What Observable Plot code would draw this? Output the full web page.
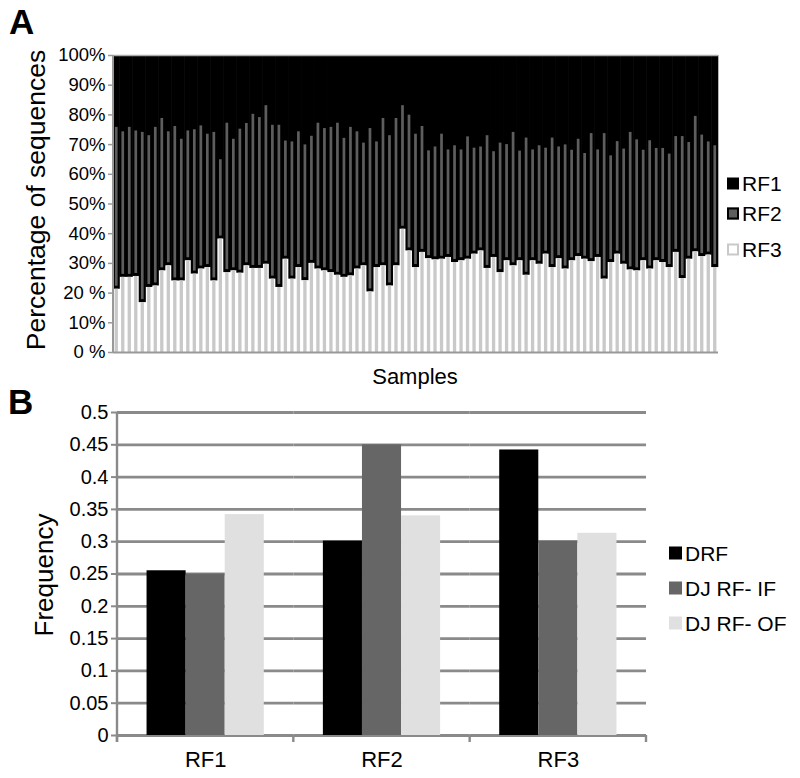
<!DOCTYPE html>
<html><head><meta charset="utf-8">
<script src="https://cdn.jsdelivr.net/npm/d3@7"></script>
<script src="https://cdn.jsdelivr.net/npm/@observablehq/plot@0.6"></script>
<style>
body{margin:0;background:#fff;}
#wrap{position:relative;width:800px;height:778px;font-family:"Liberation Sans",Arial,sans-serif;color:#000;overflow:hidden;}
#wrap svg{position:absolute;left:0;}
.abs{position:absolute;white-space:nowrap;line-height:1;}
.sw{display:inline-block;box-sizing:border-box;vertical-align:middle;}
.leg{position:absolute;white-space:nowrap;line-height:1;display:flex;align-items:center;}
</style></head><body><div id="wrap"></div>
<script>
// ---- Panel A data: percentage of sequences per sample ----
const rf1 = [24.2,25.7,24.2,25.4,25.9,27.0,24.2,21.2,25.7,23.9,28.2,25.4,25.0,23.7,26.5,25.9,35.1,22.8,28.2,24.8,22.9,19.8,20.9,16.9,23.5,23.5,28.8,29.1,25.7,30.1,27.2,22.8,24.6,24.2,22.8,27.9,24.2,25.7,29.5,24.6,29.1,21.2,27.0,21.2,16.9,20.1,26.5,23.9,32.1,30.8,26.5,31.8,30.4,31.8,27.4,31.2,30.8,27.0,32.4,29.5,30.0,25.9,32.2,27.8,31.8,30.4,31.2,27.8,30.8,30.1,31.9,28.2,33.0,26.3,31.8,26.3,33.8,29.0,31.5,25.9,28.4,31.9,28.7,31.3,31.3,33.2,27.3,27.3,29.3,20.5,26.8,29.1,30.4];
const rf2 = [54.5,49.0,50.5,49.0,57.3,51.1,53.4,51.3,45.1,52.0,47.7,43.7,48.6,48.2,44.9,50.0,26.7,50.3,44.3,48.5,47.9,51.9,50.8,53.4,51.8,54.6,39.8,46.2,45.7,45.7,42.8,49.1,47.9,48.9,51.2,46.8,50.0,46.2,41.3,55.0,42.3,49.6,50.6,49.6,41.6,45.7,44.9,42.4,36.3,38.0,42.1,36.2,39.3,37.3,41.2,35.7,35.0,44.7,35.6,43.6,39.1,44.9,36.9,46.2,37.3,39.9,35.7,43.6,37.6,41.8,37.2,39.5,35.6,43.1,36.2,49.0,35.9,37.9,38.8,46.3,44.1,37.2,43.2,37.8,38.4,38.2,39.0,47.8,39.3,45.6,40.9,38.1,41.0];
const rf3 = [21.3,25.3,25.3,25.6,16.8,21.9,22.4,27.5,29.2,24.1,24.1,30.9,26.4,28.1,28.6,24.1,38.2,26.9,27.5,26.7,29.2,28.3,28.3,29.7,24.7,21.9,31.4,24.7,28.6,24.2,30.0,28.1,27.5,26.9,26.0,25.3,25.8,28.1,29.2,20.4,28.6,29.2,22.4,29.2,41.5,34.2,28.6,33.7,31.6,31.2,31.4,32.0,30.3,30.9,31.4,33.1,34.2,28.3,32.0,26.9,30.9,29.2,30.9,26.0,30.9,29.7,33.1,28.6,31.6,28.1,30.9,32.3,31.4,30.6,32.0,24.7,30.3,33.1,29.7,27.8,27.5,30.9,28.1,30.9,30.3,28.6,33.7,24.9,31.4,33.9,32.3,32.8,28.6];
const seriesA = ["RF1","RF2","RF3"];
const pctTicks = [0,10,20,30,40,50,60,70,80,90,100];
const pctLabels = ["0 %","10%","20 %","30%","40%","50%","60%","70%","80%","90%","100%"];

// ---- Panel B data: frequency per reading frame ----
const categoriesB = ["RF1","RF2","RF3"];
const seriesB = ["DRF","DJ RF- IF","DJ RF- OF"];
const drf  = [0.255, 0.301, 0.442];
const djIF = [0.250, 0.450, 0.301];
const djOF = [0.342, 0.340, 0.313];
const freqTicks = [0,0.05,0.1,0.15,0.2,0.25,0.3,0.35,0.4,0.45,0.5];
const freqLabels = ["0","0.05","0.1","0.15","0.2","0.25","0.3","0.35","0.4","0.45","0.5"];

const FONT = '"Liberation Sans", Arial, sans-serif';
const colA = {RF1:"#000000", RF2:"#5e5e5e", RF3:"#c9c9c9"};
const colB = {"DRF":"#000000","DJ RF- IF":"#666666","DJ RF- OF":"#e0e0e0"};
const AXIS = "#999999", GRID = "#8a8a8a";

const wrap = document.getElementById("wrap");

// ---------- Panel A ----------
const samples = rf3.map((_, i) => i + 1);
const rowsA = samples.map((s, i) => ({sample: s, rf1: rf1[i], rf2: rf2[i], rf3: rf3[i]}));

const plotA = Plot.plot({
  width: 800, height: 370,
  marginLeft: 113, marginRight: 82, marginTop: 55, marginBottom: 18,
  style: {fontFamily: FONT, fontSize: "18px", color: "#000", background: "transparent"},
  x: {type: "band", domain: samples, padding: 0, round: false, axis: null},
  y: {domain: [0, 100], axis: null},
  marks: [
    Plot.barY(rowsA, {x: "sample", y1: d => d.rf3, y2: d => d.rf3 + d.rf2 + d.rf1, fill: colA.RF1, insetLeft: -0.3, insetRight: -0.3}),
    Plot.barY(rowsA, {x: "sample", y1: d => d.rf3, y2: d => d.rf3 + d.rf2, fill: colA.RF2, insetLeft: 1.9, insetRight: 1.9, insetBottom: 3}),
    Plot.barY(rowsA, {x: "sample", y1: 0, y2: d => d.rf3, fill: colA.RF3, insetLeft: 1.6, insetRight: 1.6}),
    Plot.ruleY([100], {stroke: "#aaaaaa", strokeWidth: 1.5}),
    Plot.ruleY([0], {stroke: AXIS, strokeWidth: 2}),
    Plot.axisY({ticks: pctTicks, tickFormat: d => pctLabels[pctTicks.indexOf(d)], tickSize: 5, tickPadding: 3, stroke: AXIS, strokeWidth: 1.5, fontSize: 18.5, label: null})
  ]
});
plotA.style.top = "0px";
wrap.appendChild(plotA);
{
  const y = plotA.scale("y");
  d3.select(plotA).append("line")
    .attr("x1", 113).attr("x2", 113)
    .attr("y1", y.apply(0) + 1).attr("y2", y.apply(100))
    .attr("stroke", AXIS).attr("stroke-width", 2);
}

// ---------- Panel B ----------
const rowsB = [];
categoriesB.forEach((c, i) => {
  rowsB.push({cat: c, series: seriesB[0], value: drf[i]});
  rowsB.push({cat: c, series: seriesB[1], value: djIF[i]});
  rowsB.push({cat: c, series: seriesB[2], value: djOF[i]});
});

const plotB = Plot.plot({
  width: 800, height: 408,
  marginLeft: 117, marginRight: 154, marginTop: 42, marginBottom: 43,
  style: {fontFamily: FONT, fontSize: "20px", color: "#000", background: "transparent"},
  fx: {domain: categoriesB, padding: 0, round: false, label: null},
  x: {domain: seriesB, paddingInner: 0, paddingOuter: 0.756, round: false, axis: null},
  y: {domain: [0, 0.5], axis: null},
  color: {domain: seriesB, range: seriesB.map(s => colB[s])},
  marks: [
    Plot.ruleY(freqTicks, {stroke: GRID, strokeWidth: 2.8}),
    Plot.barY(rowsB, {fx: "cat", x: "series", y: "value", fill: "series"}),
    Plot.axisY({ticks: freqTicks, tickFormat: d => freqLabels[freqTicks.indexOf(d)], tickSize: 6, tickPadding: 3, stroke: GRID, strokeWidth: 2, fontSize: 20, label: null}),
    Plot.axisFx({anchor: "bottom", tickSize: 0, tickPadding: 16, fontSize: 22, label: null})
  ]
});
plotB.style.top = "370px";
wrap.appendChild(plotB);
{
  const y = plotB.scale("y");
  const fx = plotB.scale("fx");
  const g = d3.select(plotB).append("g").attr("stroke", GRID).attr("stroke-width", 2.4);
  const y0 = y.apply(0);
  g.append("line").attr("x1", 117).attr("x2", 117).attr("y1", y0 + 7).attr("y2", y.apply(0.5));
  const edges = categoriesB.map(c => fx.apply(c)).concat([fx.apply(categoriesB[categoriesB.length - 1]) + fx.bandwidth]);
  edges.forEach(xp => g.append("line").attr("x1", xp).attr("x2", xp).attr("y1", y0).attr("y2", y0 + 7));
}

// ---------- Text, letters and legends ----------
function addText(txt, left, top, size, opts = {}) {
  const d = document.createElement("div");
  d.className = "abs";
  d.textContent = txt;
  d.style.left = left + "px";
  d.style.top = top + "px";
  d.style.fontSize = size + "px";
  if (opts.bold) d.style.fontWeight = "bold";
  d.style.transform = opts.rotate ? "translate(-50%,-50%) rotate(-90deg)" : (opts.center ? "translate(-50%,-50%)" : "none");
  wrap.appendChild(d);
}
addText("A", 9, 4, 35, {bold: true});
addText("B", 8, 384, 35, {bold: true});
addText("Percentage of sequences", 36, 200, 26.5, {rotate: true});
addText("Samples", 415, 377, 22, {center: true});
addText("Frequency", 44, 575, 26, {rotate: true});

function addLegend(items, left, tops, size, swatch, font) {
  items.forEach((name, i) => {
    const d = document.createElement("div");
    d.className = "leg";
    d.style.left = left + "px";
    d.style.top = tops[i] + "px";
    d.style.transform = "translateY(-50%)";
    d.style.fontSize = font + "px";
    const s = document.createElement("span");
    s.className = "sw";
    s.style.width = size + "px";
    s.style.height = size + "px";
    s.style.marginRight = "3px";
    Object.assign(s.style, swatch(name));
    d.appendChild(s);
    d.appendChild(document.createTextNode(name));
    wrap.appendChild(d);
  });
}
addLegend(seriesA, 727, [183, 213, 249], 12, n => (
  n === "RF1" ? {background: colA.RF1} :
  n === "RF2" ? {background: colA.RF2, border: "2px solid #000"} :
               {background: "#fff", border: "2px solid " + colA.RF3}
), 21);
addLegend(seriesB, 669, [553, 588, 623], 13, n => ({background: colB[n]}), 21);
</script>
</body></html>
